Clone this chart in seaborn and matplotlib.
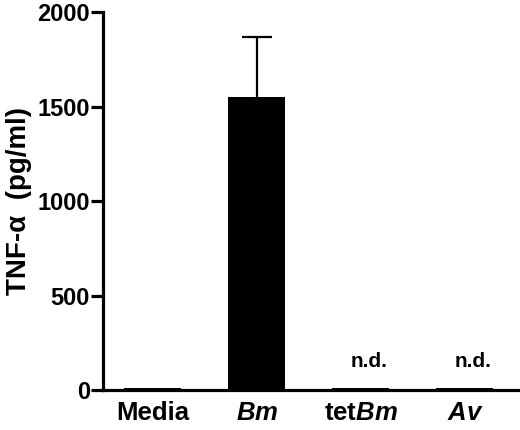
import numpy as np
import matplotlib
matplotlib.use("Agg")
import matplotlib.pyplot as plt
import seaborn as sns

# data
groups = ["Media", "Bm", "tetBm", "Av"]
tick_labels = ["Media", r"$\it{Bm}$", r"tet$\it{Bm}$", r"$\it{Av}$"]
tnf = [10, 1550, 10, 8]
tnf_err_up = [0, 320, 0, 0]
notes = ["", "", "n.d.", "n.d."]

sns.set_style("ticks")
plt.rcParams["font.family"] = ["Liberation Sans", "DejaVu Sans"]
plt.rcParams["font.weight"] = "bold"
plt.rcParams["mathtext.fontset"] = "custom"
plt.rcParams["mathtext.rm"] = "Liberation Sans:bold"
plt.rcParams["mathtext.it"] = "Liberation Sans:italic:bold"
plt.rcParams["mathtext.bf"] = "Liberation Sans:bold"
for k in ["text.color", "axes.labelcolor", "xtick.color", "ytick.color",
          "axes.edgecolor"]:
    plt.rcParams[k] = "black"

fig = plt.figure(figsize=(5.2, 4.3), dpi=100)
ax = fig.add_axes([0.198, 0.093, 0.798, 0.879])

sns.barplot(x=groups, y=tnf, color="black", width=0.55, ax=ax,
            edgecolor="black", linewidth=0, zorder=2)

# upward-only error bar, drawn behind the bar
for i, (v, e) in enumerate(zip(tnf, tnf_err_up)):
    if e > 0:
        _, caps, _ = ax.errorbar(i, v, yerr=[[0], [e]], fmt="none",
                                 ecolor="black", elinewidth=1.6, capsize=11,
                                 capthick=1.6, zorder=1)
        caps[0].set_visible(False)

for i, (v, t) in enumerate(zip(tnf, notes)):
    if t:
        ax.text(i + 0.08, 150, t, ha="center", va="center",
                fontsize=15, fontweight="bold")

ax.set_ylim(0, 2000)
ax.set_xlim(-0.48, 3.51)
ax.set_yticks([0, 500, 1000, 1500, 2000])
ax.set_xticks(range(len(groups)))
ax.set_xticklabels(tick_labels, fontsize=18.5, fontweight="bold")
ax.set_ylabel("TNF-\u03b1  (pg/ml)", fontsize=20, fontweight="bold", labelpad=4)
ax.set_xlabel("")

sns.despine(ax=ax)
for s in ["left", "bottom"]:
    ax.spines[s].set_linewidth(2.3)
ax.tick_params(axis="y", length=8.5, width=2.3, labelsize=17, pad=1)
ax.tick_params(axis="x", length=0, pad=8)
for lab in ax.get_yticklabels():
    lab.set_fontweight("bold")

fig.savefig("out.png", dpi=100)
